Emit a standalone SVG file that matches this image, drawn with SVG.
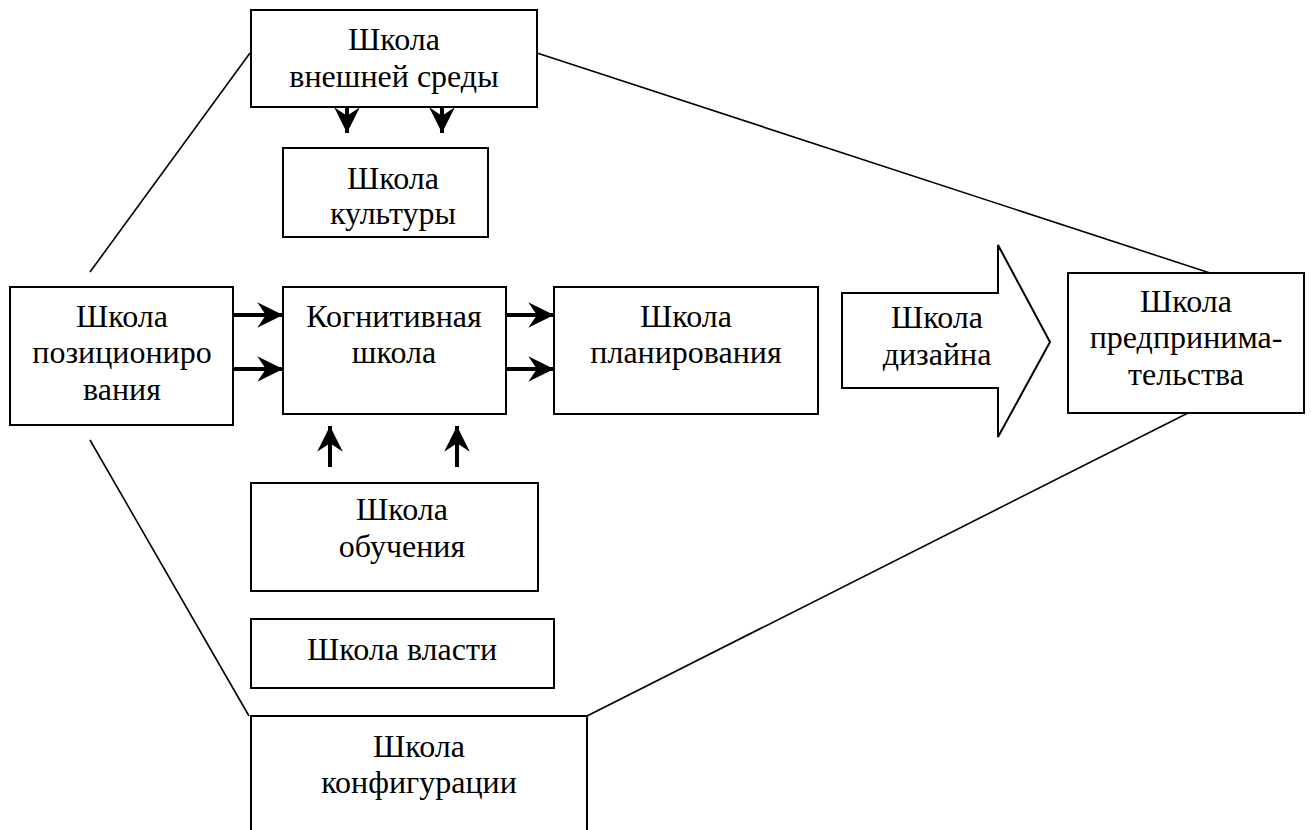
<svg xmlns="http://www.w3.org/2000/svg" width="1311" height="830" viewBox="0 0 1311 830">
<style>
.box{fill:#fff;stroke:#000;stroke-width:2}
.ln{fill:none;stroke:#000;stroke-width:1.6}
.ar{fill:none;stroke:#000;stroke-width:4}
.t{font-family:"Liberation Serif","Times New Roman",serif;font-size:32px;fill:#000;text-anchor:middle}
</style>
<defs>
<marker id="ah" markerUnits="userSpaceOnUse" markerWidth="30" markerHeight="30" viewBox="-24 -14 26 28" refX="0" refY="0" orient="auto">
<path d="M0,0 L-24,-12 L-16,0 L-24,12 Z" fill="#000"/>
</marker>
</defs>
<g id="connectors">
<line class="ln" x1="250" y1="53" x2="90" y2="272"/>
<line class="ln" x1="537" y1="53" x2="1210" y2="273"/>
<line class="ln" x1="90" y1="440" x2="249" y2="716"/>
<line class="ln" x1="587" y1="716" x2="1188" y2="413"/>
<line class="ar" x1="347" y1="107" x2="347" y2="133" marker-end="url(#ah)"/>
<line class="ar" x1="442" y1="107" x2="442" y2="133" marker-end="url(#ah)"/>
<line class="ar" x1="233" y1="315" x2="283" y2="315" marker-end="url(#ah)"/>
<line class="ar" x1="233" y1="369" x2="283" y2="369" marker-end="url(#ah)"/>
<line class="ar" x1="506" y1="315" x2="554" y2="315" marker-end="url(#ah)"/>
<line class="ar" x1="506" y1="369" x2="554" y2="369" marker-end="url(#ah)"/>
<line class="ar" x1="330" y1="467" x2="330" y2="426" marker-end="url(#ah)"/>
<line class="ar" x1="457" y1="467" x2="457" y2="426" marker-end="url(#ah)"/>
</g>
<g id="env">
<rect class="box" x="251" y="10" width="286" height="97"/>
<text class="t" x="394" y="50">Школа</text>
<text class="t" x="394" y="87">внешней среды</text>
</g>
<g id="culture">
<rect class="box" x="283" y="148" width="205" height="89"/>
<text class="t" x="393" y="189">Школа</text>
<text class="t" x="393" y="224">культуры</text>
</g>
<g id="positioning">
<rect class="box" x="10" y="287" width="223" height="138"/>
<text class="t" x="122" y="327">Школа</text>
<text class="t" x="122" y="363">позициониро</text>
<text class="t" x="122" y="400">вания</text>
</g>
<g id="cognitive">
<rect class="box" x="283" y="287" width="223" height="127"/>
<text class="t" x="394" y="327">Когнитивная</text>
<text class="t" x="394" y="363">школа</text>
</g>
<g id="planning">
<rect class="box" x="554" y="287" width="264" height="127"/>
<text class="t" x="686" y="327">Школа</text>
<text class="t" x="686" y="363">планирования</text>
</g>
<g id="design">
<path class="box" d="M842,293 L998,293 L998,245 L1050,342 L998,437 L998,388 L842,388 Z"/>
<text class="t" x="937" y="328">Школа</text>
<text class="t" x="937" y="365">дизайна</text>
</g>
<g id="entrepreneurship">
<rect class="box" x="1068" y="273" width="236" height="140"/>
<text class="t" x="1186" y="312">Школа</text>
<text class="t" x="1186" y="348">предпринима-</text>
<text class="t" x="1186" y="385">тельства</text>
</g>
<g id="learning">
<rect class="box" x="251" y="483" width="287" height="108"/>
<text class="t" x="402" y="520">Школа</text>
<text class="t" x="402" y="557">обучения</text>
</g>
<g id="power">
<rect class="box" x="251" y="619" width="303" height="69"/>
<text class="t" x="402" y="660">Школа власти</text>
</g>
<g id="configuration">
<path class="box" d="M251,832 L251,716 L587,716 L587,832"/>
<text class="t" x="419" y="757">Школа</text>
<text class="t" x="419" y="793">конфигурации</text>
</g>
</svg>
